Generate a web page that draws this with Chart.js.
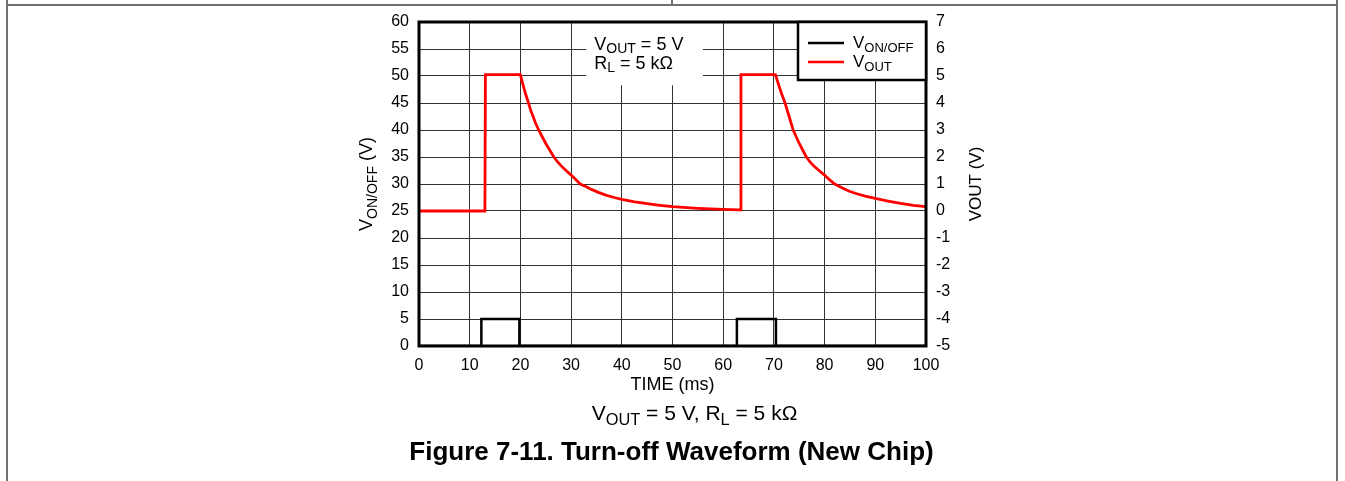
<!DOCTYPE html>
<html>
<head>
<meta charset="utf-8">
<script src="https://cdn.jsdelivr.net/npm/chart.js@4"></script>
<style>
  html, body { margin: 0; padding: 0; background: #fff; }
  body { width: 1345px; height: 481px; position: relative; overflow: hidden;
         font-family: 'Liberation Sans', Arial, sans-serif; color: #000; }
  #chart { position: absolute; left: 0; top: 0; }
  .rule { position: absolute; background: #707070; }
  .caption { position: absolute; left: 0; width: 1345px; text-align: center; white-space: nowrap; }
  .caption sub { font-size: 0.78em; vertical-align: -0.3em; line-height: 0; }
</style>
</head>
<body>
<div class="rule" style="left:6px;top:0;width:2px;height:481px"></div>
<div class="rule" style="left:1336px;top:0;width:2px;height:481px"></div>
<div class="rule" style="left:6px;top:4px;width:1332px;height:2px"></div>
<div class="rule" style="left:671px;top:0;width:2px;height:5px"></div>
<canvas id="chart" width="1345" height="481"></canvas>
<div class="caption" style="top:401px;left:22px;font-size:21px">V<sub>OUT</sub> = 5 V, R<sub>L</sub> = 5 kΩ</div>
<div class="caption" style="top:436px;left:-1px;font-size:26px;font-weight:bold">Figure 7-11. Turn-off Waveform (New Chip)</div>
<script>
// V_ON/OFF control signal (left axis, V)
const vonTime = [0, 12.3, 12.3, 19.8, 19.8, 62.7, 62.7, 70.4, 70.4, 100];
const vonVolts = [0, 0, 5, 5, 0, 0, 5, 5, 0, 0];

// V_OUT (right axis, V)
const voutTime = [0, 13.0, 13.1, 20.0, 20.4, 21.0, 21.6, 22.0, 22.5, 23.0, 23.6, 24.3, 25.0,
  25.8, 26.6, 27.3, 28.0, 29.0, 30.0, 31.0, 31.8, 33.0, 34.0, 35.5, 37.0, 38.5, 40.0, 42.5,
  45.0, 47.5, 50.0, 55.0, 60.0, 63.4, 63.5, 70.3, 70.8, 71.5, 72.2, 73.0, 73.8, 74.4, 75.0,
  75.7, 76.4, 77.2, 78.0, 79.0, 80.0, 81.0, 82.0, 83.5, 85.0, 86.5, 88.0, 90.0, 92.5, 95.0,
  97.5, 100];
const voutVolts = [0.0, 0.0, 5.05, 5.05, 4.75, 4.35, 4.0, 3.75, 3.5, 3.25, 3.0, 2.75, 2.5,
  2.25, 2.0, 1.83, 1.68, 1.5, 1.33, 1.15, 1.0, 0.9, 0.8, 0.68, 0.58, 0.5, 0.43, 0.34,
  0.27, 0.21, 0.16, 0.1, 0.06, 0.04, 5.05, 5.05, 4.75, 4.35, 4.0, 3.5, 3.0, 2.75, 2.5,
  2.25, 2.0, 1.8, 1.65, 1.48, 1.33, 1.15, 1.0, 0.85, 0.72, 0.63, 0.55, 0.47, 0.37, 0.28,
  0.21, 0.16];

const xTicks = { min: 0, max: 100, step: 10 };
const leftTicks = { min: 0, max: 60, step: 5 };
const rightTicks = { min: -5, max: 7, step: 1 };

const FONT = "'Liberation Sans', Arial, sans-serif";
const toPoints = (xs, ys) => xs.map((x, i) => ({ x: x, y: ys[i] }));

// text with subscripts: parts = [[text, isSub], ...]
function richText(ctx, parts, x, y, size, align, subShift) {
  const subSize = Math.round(size * 0.75);
  const shift = subShift === undefined ? 0.25 : subShift;
  let total = 0;
  parts.forEach(p => {
    ctx.font = (p[1] ? subSize : size) + 'px ' + FONT;
    total += ctx.measureText(p[0]).width;
  });
  let cx = align === 'center' ? x - total / 2 : x;
  ctx.textAlign = 'left';
  ctx.textBaseline = 'alphabetic';
  parts.forEach(p => {
    ctx.font = (p[1] ? subSize : size) + 'px ' + FONT;
    ctx.fillText(p[0], cx, y + (p[1] ? size * shift : 0));
    cx += ctx.measureText(p[0]).width;
  });
}

const decorPlugin = {
  id: 'decor',
  beforeDatasetsDraw(chart) {
    const { ctx, chartArea: a, scales } = chart;
    // white note box over the grid
    const bx0 = scales.x.getPixelForValue(33), bx1 = scales.x.getPixelForValue(56);
    const by1 = scales.y.getPixelForValue(48.3);
    ctx.save();
    ctx.fillStyle = '#fff';
    ctx.fillRect(bx0, a.top, bx1 - bx0, by1 - a.top);
    ctx.fillStyle = '#000';
    richText(ctx, [['V', false], ['OUT', true], [' = 5 V', false]], bx0 + 8, a.top + 28, 18, 'left', 0.16);
    richText(ctx, [['R', false], ['L', true], [' = 5 kΩ', false]], bx0 + 8, a.top + 47, 18, 'left', 0.16);
    ctx.restore();
  },
  afterDatasetsDraw(chart) {
    const { ctx, chartArea: a } = chart;
    ctx.save();
    // plot frame
    ctx.strokeStyle = '#000';
    ctx.lineWidth = 3;
    ctx.strokeRect(a.left, a.top, a.right - a.left, a.bottom - a.top);

    // legend
    const lw = 128, lh = 58, lx = a.right - lw, ly = a.top;
    ctx.fillStyle = '#fff';
    ctx.fillRect(lx, ly, lw, lh);
    ctx.lineWidth = 2.5;
    ctx.strokeRect(lx, ly, lw, lh);
    const items = [
      { color: '#000', parts: [['V', false], ['ON/OFF', true]], y: ly + 21 },
      { color: '#ff0000', parts: [['V', false], ['OUT', true]], y: ly + 40 }
    ];
    items.forEach(it => {
      ctx.strokeStyle = it.color;
      ctx.lineWidth = 2.5;
      ctx.beginPath();
      ctx.moveTo(lx + 10, it.y);
      ctx.lineTo(lx + 46, it.y);
      ctx.stroke();
      ctx.fillStyle = '#000';
      richText(ctx, it.parts, lx + 55, it.y + 5, 17, 'left');
    });

    // axis titles
    ctx.fillStyle = '#000';
    const midY = (a.top + a.bottom) / 2;
    ctx.save();
    ctx.translate(a.left - 47, midY);
    ctx.rotate(-Math.PI / 2);
    richText(ctx, [['V', false], ['ON/OFF', true], [' (V)', false]], 0, 0, 18, 'center');
    ctx.restore();
    ctx.save();
    ctx.translate(a.right + 55, midY);
    ctx.rotate(-Math.PI / 2);
    richText(ctx, [['VOUT (V)', false]], 0, 0, 17, 'center');
    ctx.restore();
    richText(ctx, [['TIME (ms)', false]], (a.left + a.right) / 2, a.bottom + 44, 18, 'center');
    ctx.restore();
  }
};

const gridColor = '#333';
new Chart(document.getElementById('chart'), {
  type: 'line',
  plugins: [decorPlugin],
  data: {
    datasets: [
      {
        label: 'VON/OFF',
        data: toPoints(vonTime, vonVolts),
        yAxisID: 'y',
        borderColor: '#000',
        borderWidth: 2.5,
        pointRadius: 0,
        tension: 0
      },
      {
        label: 'VOUT',
        data: toPoints(voutTime, voutVolts),
        yAxisID: 'y2',
        borderColor: '#ff0000',
        borderWidth: 2.8,
        pointRadius: 0,
        tension: 0
      }
    ]
  },
  options: {
    responsive: false,
    animation: false,
    devicePixelRatio: 1,
    layout: { padding: { top: 22, left: 0, right: 0, bottom: 0 } },
    plugins: { legend: { display: false }, tooltip: { enabled: false } },
    scales: {
      x: {
        type: 'linear',
        min: xTicks.min, max: xTicks.max,
        ticks: { stepSize: xTicks.step, color: '#000', font: { family: FONT, size: 16 }, padding: 10, maxRotation: 0 },
        grid: { color: gridColor, lineWidth: 1, drawTicks: false },
        border: { display: false },
        afterFit: s => { s.height = 135; }
      },
      y: {
        position: 'left',
        min: leftTicks.min, max: leftTicks.max,
        ticks: { stepSize: leftTicks.step, color: '#000', font: { family: FONT, size: 16 }, padding: 10 },
        grid: { color: gridColor, lineWidth: 1, drawTicks: false },
        border: { display: false },
        afterFit: s => { s.width = 419; }
      },
      y2: {
        position: 'right',
        min: rightTicks.min, max: rightTicks.max,
        ticks: { stepSize: rightTicks.step, color: '#000', font: { family: FONT, size: 16 }, padding: 10 },
        grid: { display: false, drawTicks: false },
        border: { display: false },
        afterFit: s => { s.width = 419; }
      }
    }
  }
});
</script>
</body>
</html>
